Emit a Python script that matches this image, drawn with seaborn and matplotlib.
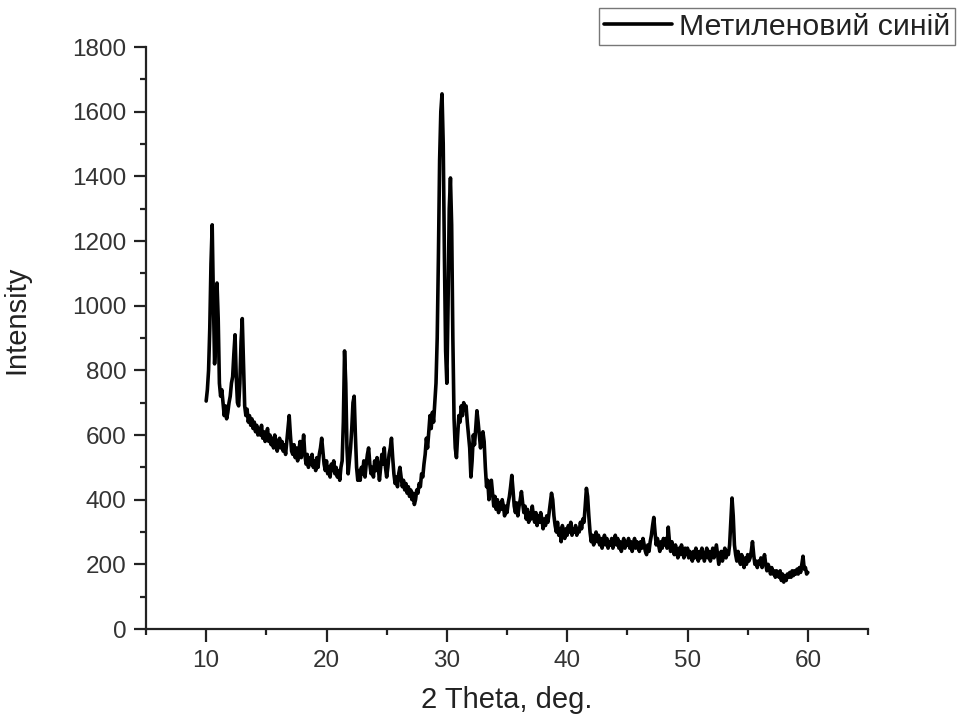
import numpy as np
import pandas as pd
import seaborn as sns
import matplotlib
matplotlib.use("Agg")
import matplotlib.pyplot as plt
from matplotlib.ticker import MultipleLocator

# Sampling grid of the pattern: 2-theta from 10 to 60 deg, step 0.1 deg
theta_start, theta_step = 10.0, 0.1

# Intensity (one row per degree, 10 samples per row)
intensity = [
    705, 740, 800, 930, 1130, 1250, 1020, 820, 900, 1070,   # 10
    960, 760, 720, 740, 700, 660, 690, 650, 670, 700,       # 11
    720, 760, 780, 850, 910, 780, 700, 690, 760, 890,       # 12
    960, 820, 690, 660, 680, 640, 660, 630, 650, 620,       # 13
    640, 610, 630, 600, 620, 600, 630, 590, 610, 580,       # 14
    600, 620, 580, 600, 570, 590, 560, 600, 580, 550,       # 15
    570, 590, 560, 580, 550, 570, 540, 580, 620, 660,       # 16
    600, 550, 540, 570, 530, 560, 520, 550, 580, 530,       # 17
    560, 600, 540, 510, 540, 500, 530, 510, 540, 500,       # 18
    520, 490, 530, 500, 540, 560, 590, 550, 510, 490,       # 19
    520, 480, 500, 470, 510, 490, 520, 480, 500, 470,       # 20
    490, 460, 500, 520, 640, 860, 760, 560, 480, 520,       # 21
    560, 620, 700, 720, 600, 500, 460, 490, 460, 500,       # 22
    480, 520, 470, 510, 540, 560, 510, 480, 500, 470,       # 23
    520, 490, 530, 500, 460, 500, 540, 510, 560, 500,       # 24
    470, 500, 540, 560, 590, 530, 480, 450, 470, 440,       # 25
    480, 500, 470, 440, 460, 430, 450, 420, 440, 410,       # 26
    430, 400, 420, 385, 400, 430, 420, 450, 440, 480,       # 27
    470, 510, 540, 590, 560, 610, 660, 620, 670, 640,       # 28
    700, 760, 900, 1150, 1450, 1600, 1655, 1500, 1150, 860, # 29
    760, 1000, 1300, 1395, 1250, 900, 650, 560, 530, 600,   # 30
    660, 640, 690, 660, 700, 680, 690, 640, 600, 560,       # 31
    470, 520, 600, 570, 620, 675, 640, 600, 560, 600,       # 32
    610, 580, 500, 440, 460, 400, 430, 460, 420, 380,       # 33
    410, 370, 400, 360, 390, 370, 400, 380, 350, 380,       # 34
    360, 390, 410, 440, 475, 430, 380, 360, 390, 350,       # 35
    380, 400, 425, 390, 360, 380, 340, 370, 330, 360,       # 36
    340, 380, 350, 330, 360, 320, 350, 330, 360, 340,       # 37
    310, 340, 320, 350, 330, 360, 390, 420, 400, 350,       # 38
    320, 300, 330, 290, 310, 270, 320, 300, 280, 310,       # 39
    290, 320, 300, 330, 290, 310, 300, 320, 290, 310,       # 40
    300, 330, 310, 340, 330, 380, 435, 410, 350, 300,       # 41
    270, 290, 260, 280, 300, 270, 290, 260, 280, 250,       # 42
    270, 290, 260, 280, 250, 270, 260, 280, 250, 270,       # 43
    290, 260, 280, 250, 270, 240, 260, 280, 250, 270,       # 44
    260, 280, 250, 270, 240, 260, 280, 250, 270, 260,       # 45
    240, 270, 250, 280, 260, 240, 230, 260, 240, 270,       # 46
    290, 320, 345, 300, 260, 280, 260, 240, 270, 250,       # 47
    280, 260, 280, 250, 315, 270, 240, 270, 250, 230,       # 48
    260, 240, 220, 250, 230, 260, 240, 220, 250, 230,       # 49
    250, 220, 240, 230, 210, 240, 220, 250, 230, 210,       # 50
    240, 220, 250, 230, 210, 230, 250, 220, 240, 210,       # 51
    230, 250, 220, 240, 260, 230, 200, 220, 240, 210,       # 52
    230, 250, 220, 240, 230, 260, 330, 405, 350, 260,       # 53
    230, 210, 240, 220, 200, 230, 210, 190, 220, 200,       # 54
    230, 210, 220, 240, 270, 230, 200, 210, 190, 210,       # 55
    200, 220, 190, 210, 230, 200, 180, 200, 190, 170,       # 56
    190, 170, 180, 160, 180, 170, 160, 180, 150, 170,       # 57
    145, 165, 150, 170, 160, 175, 160, 180, 165, 180,       # 58
    170, 185, 170, 190, 175, 200, 225, 185, 190, 170,       # 59
    175,                                                    # 60
]
two_theta = np.round(theta_start + theta_step * np.arange(len(intensity)), 1)

series_label = "Метиленовий синій"
x_label = "2 Theta, deg."
y_label = "Intensity"

df = pd.DataFrame({"two_theta": two_theta, "intensity": intensity})

sns.set_theme(style="ticks")
plt.rcParams["font.family"] = ["Liberation Sans", "DejaVu Sans"]

fig = plt.figure(figsize=(9.66, 7.21), dpi=100)
ax = fig.add_axes([146 / 966, 1 - 629 / 721, (868 - 146) / 966, (629 - 47) / 721])

sns.lineplot(data=df, x="two_theta", y="intensity", color="black",
             linewidth=2.6, estimator=None, label=series_label, ax=ax)

ax.set_xlim(5, 65)
ax.set_ylim(0, 1800)
ax.xaxis.set_major_locator(MultipleLocator(10))
ax.xaxis.set_minor_locator(MultipleLocator(5))
ax.yaxis.set_major_locator(MultipleLocator(200))
ax.yaxis.set_minor_locator(MultipleLocator(100))
ax.set_xticks([10, 20, 30, 40, 50, 60])

sns.despine(ax=ax)
for s in ["left", "bottom"]:
    ax.spines[s].set_linewidth(1.6)
    ax.spines[s].set_color("#222222")

ax.tick_params(axis="both", which="major", direction="out", length=9, width=1.6,
               labelsize=17.5, colors="#222222", labelcolor="#333333")
ax.tick_params(axis="y", which="major", pad=5)
ax.tick_params(axis="x", which="major", pad=6)
ax.tick_params(axis="both", which="minor", direction="out", length=4.5, width=1.6,
               colors="#222222")

ax.set_xlabel(x_label, fontsize=21, color="#222222", labelpad=10)
ax.set_ylabel(y_label, fontsize=21, color="#222222")
ax.yaxis.set_label_coords((30 - 146) / 722, (629 - 320) / 582)

leg = ax.legend(loc="upper right", bbox_to_anchor=(955 / 966, 1 - 8 / 721),
                bbox_transform=fig.transFigure, fontsize=21.8, frameon=True,
                fancybox=False, borderpad=0.15, handlelength=2.25,
                handletextpad=0.25, borderaxespad=0)
leg.get_frame().set_edgecolor("#555555")
leg.get_frame().set_linewidth(1.0)
for t in leg.get_texts():
    t.set_color("#222222")

fig.savefig("out.png", dpi=100)
